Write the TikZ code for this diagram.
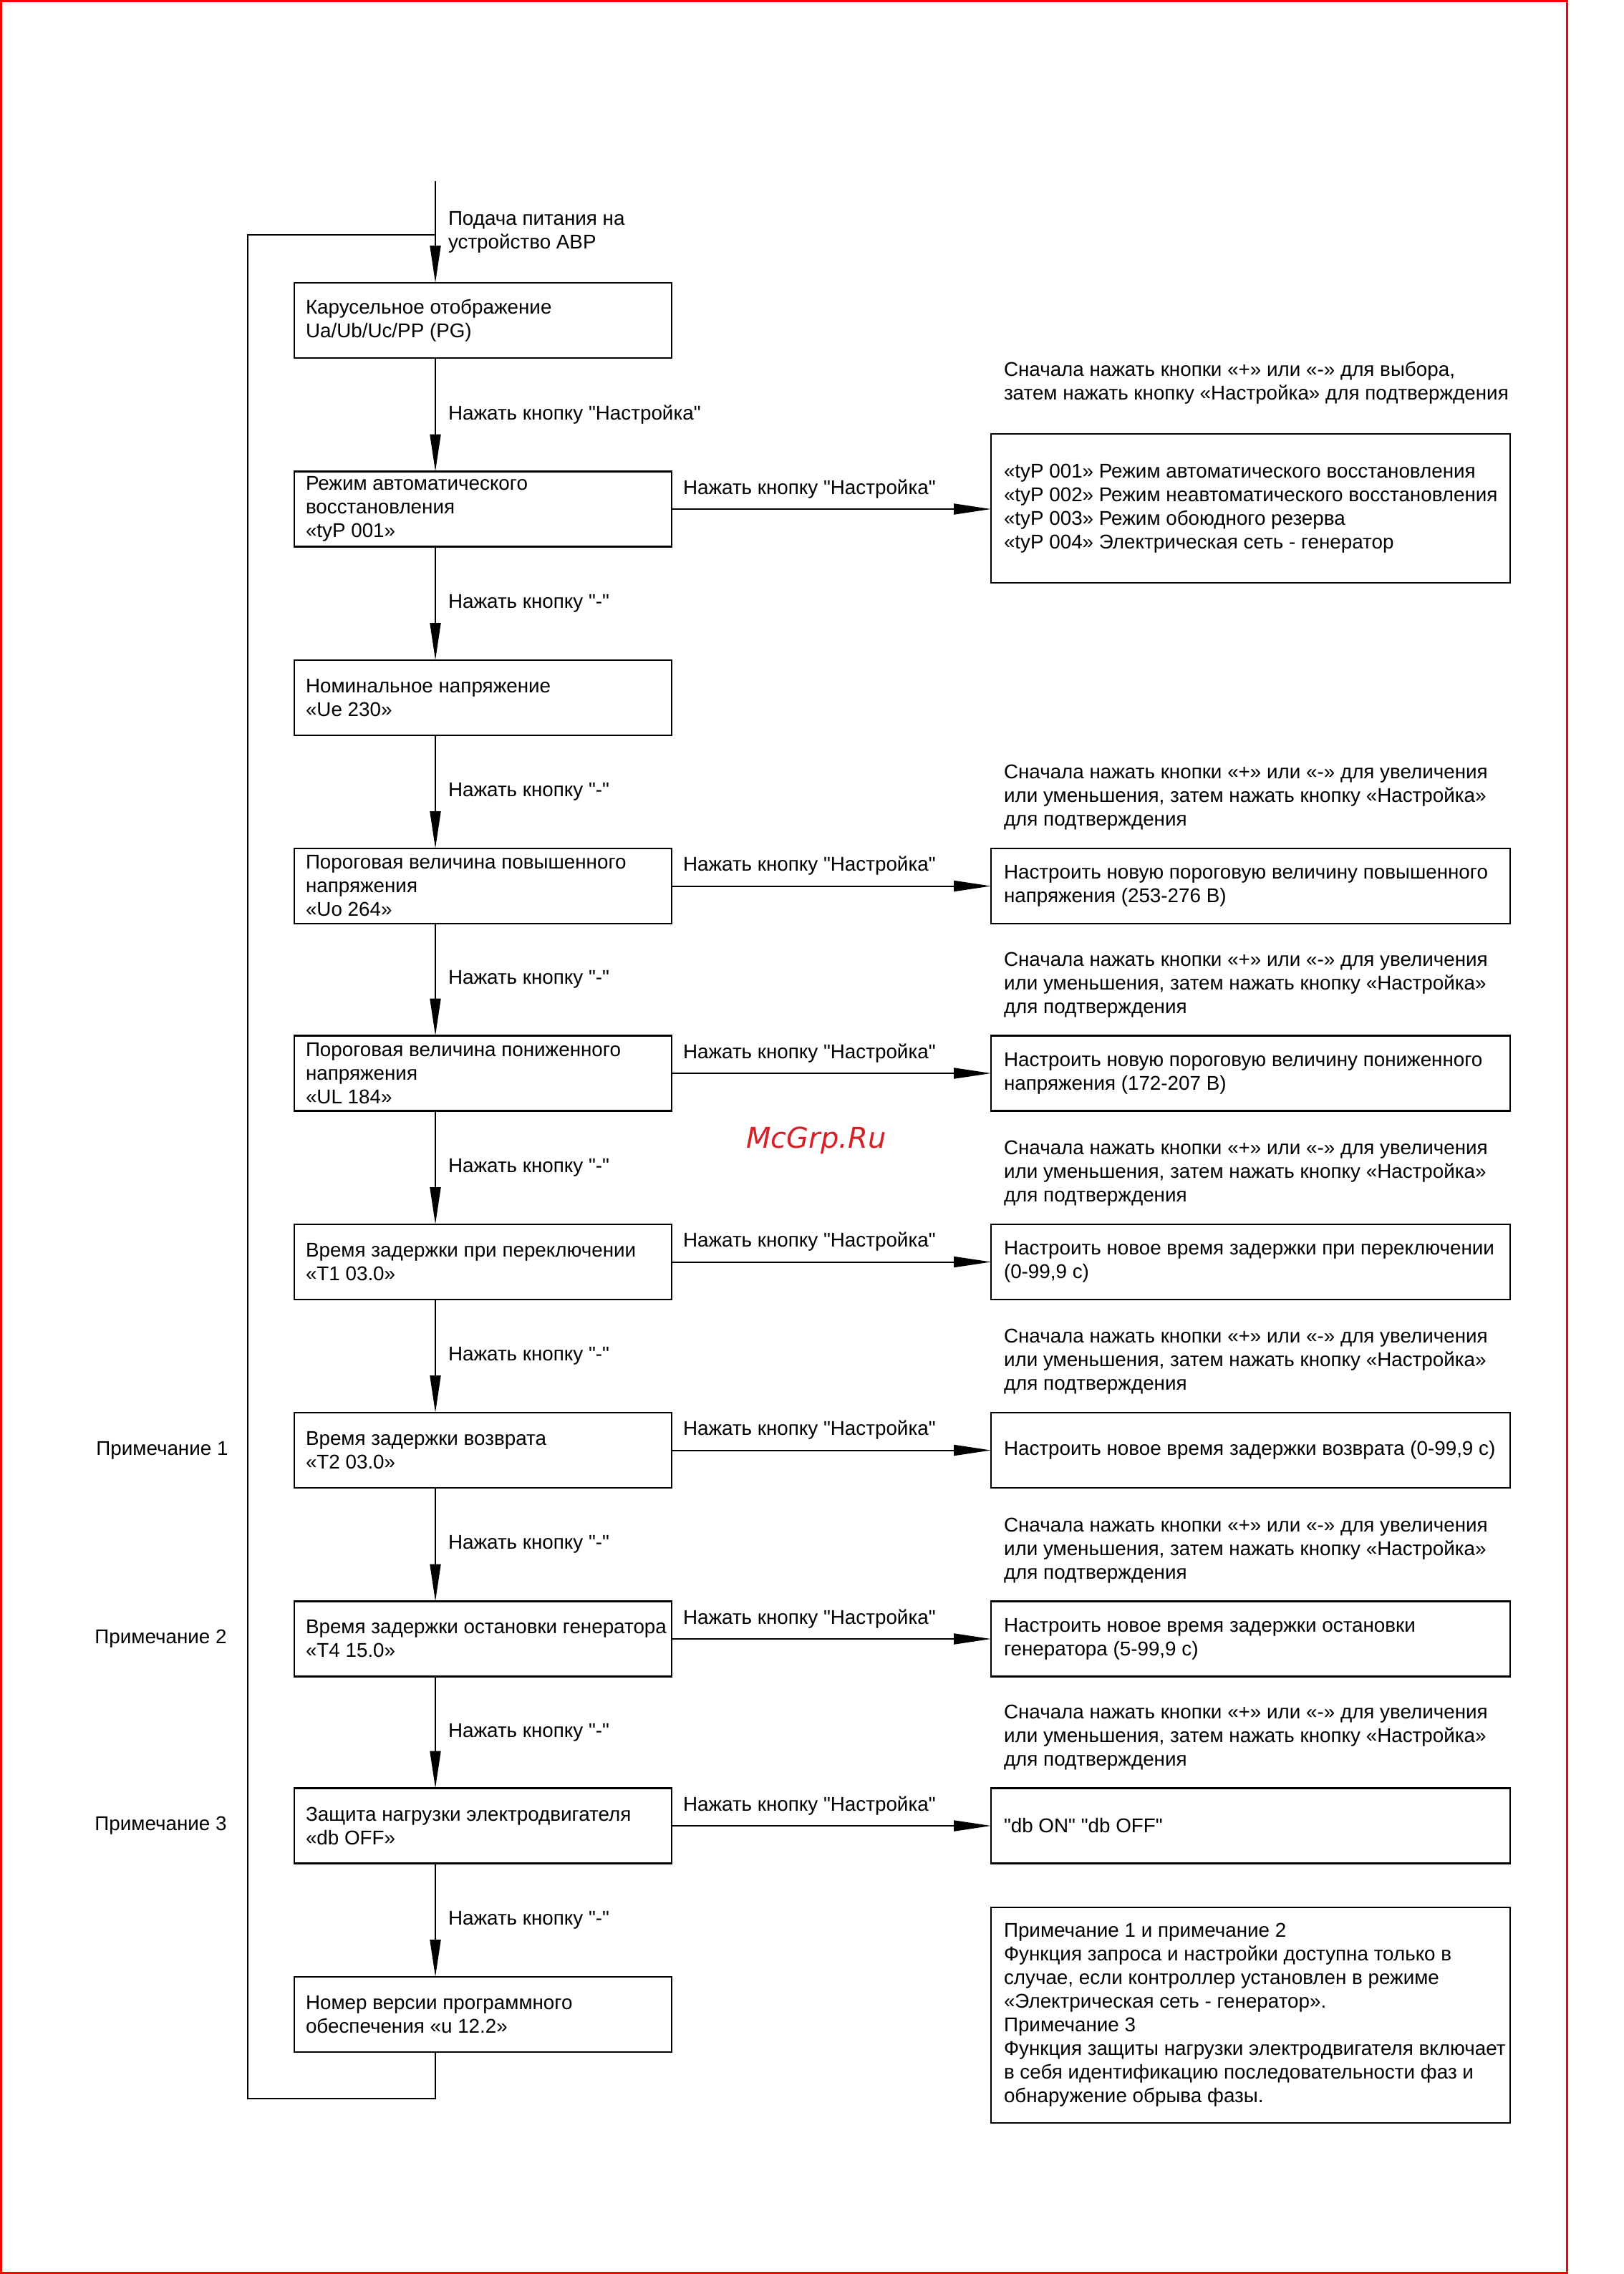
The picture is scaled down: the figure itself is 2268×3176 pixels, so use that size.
\documentclass[tikz,border=0pt]{standalone}
\usepackage{fontspec}
\setmainfont{Liberation Sans}[Ligatures=TeXOff]
\newfontfamily\wmfont{DejaVu Sans}
\usetikzlibrary{arrows.meta,calc}
\definecolor{wmred}{RGB}{214,32,39}
\begin{document}
\begin{tikzpicture}[x=0.5pt,y=-0.5pt,
  every node/.style={font=\fontsize{13.9}{16.5}\selectfont, inner sep=0pt, outer sep=0pt},
  lbox/.style={draw, line width=1.3pt, minimum width=263.5pt, minimum height=52.5pt},
  rbox/.style={draw, line width=1.3pt, minimum width=362.5pt, minimum height=52.5pt},
  lab/.style={align=left, anchor=west},
  arr/.style={line width=1pt, -{Triangle[length=26pt,width=7.5pt]}},
  ln/.style={line width=1pt}
]
\useasboundingbox (0,0) rectangle (2268,3176);
% page frame
\draw[red, line width=1.5pt] (1.5,1.5) rectangle (2188,3174.5);

% left column boxes
\node[lbox] (b1) at (674.5,447.5) {};
\node[lbox] (b2) at (674.5,711) {};
\node[lbox] (b3) at (674.5,974.5) {};
\node[lbox] (b4) at (674.5,1237.5) {};
\node[lbox] (b5) at (674.5,1499) {};
\node[lbox] (b6) at (674.5,1762.5) {};
\node[lbox] (b7) at (674.5,2025.5) {};
\node[lbox] (b8) at (674.5,2289) {};
\node[lbox] (b9) at (674.5,2550) {};
\node[lbox] (b10) at (674.5,2813.5) {};

\node[lab] (t1) at ($(b1.west)+(8pt,0)$) {Карусельное отображение\\Ua/Ub/Uc/PP (PG)};
\node[lab] (t2) at ($(b2.west)+(8pt,0)$) {Режим автоматического\\восстановления\\«tyP 001»};
\node[lab] (t3) at ($(b3.west)+(8pt,0)$) {Номинальное напряжение\\«Ue 230»};
\node[lab] (t4) at ($(b4.west)+(8pt,0)$) {Пороговая величина повышенного\\напряжения\\«Uo 264»};
\node[lab] (t5) at ($(b5.west)+(8pt,0)$) {Пороговая величина пониженного\\напряжения\\«UL 184»};
\node[lab] (t6) at ($(b6.west)+(8pt,0)$) {Время задержки при переключении\\«T1 03.0»};
\node[lab] (t7) at ($(b7.west)+(8pt,0)$) {Время задержки возврата\\«T2 03.0»};
\node[lab] (t8) at ($(b8.west)+(8pt,0)$) {Время задержки остановки генератора\\«T4 15.0»};
\node[lab] (t9) at ($(b9.west)+(8pt,0)$) {Защита нагрузки электродвигателя\\«db OFF»};
\node[lab] (t10) at ($(b10.west)+(8pt,0)$) {Номер версии программного\\обеспечения «u 12.2»};

% right column boxes
\node[rbox, minimum height=104pt] (r1) at (1746.5,710) {};
\node[rbox] (r2) at (1746.5,1237.5) {};
\node[rbox] (r3) at (1746.5,1499) {};
\node[rbox] (r4) at (1746.5,1762.5) {};
\node[rbox] (r5) at (1746.5,2025.5) {};
\node[rbox] (r6) at (1746.5,2289) {};
\node[rbox] (r7) at (1746.5,2550) {};
\node[rbox, minimum height=150.5pt] (nb) at (1746.5,2814.5) {};

\node[lab] (rt1) at ($(r1.west)+(9pt,0)$) {«tyP 001» Режим автоматического восстановления\\«tyP 002» Режим неавтоматического восстановления\\«tyP 003» Режим обоюдного резерва\\«tyP 004» Электрическая сеть - генератор};
\node[lab] (rt2) at ($(r2.west)+(9pt,0)$) {Настроить новую пороговую величину повышенного\\напряжения (253-276 В)};
\node[lab] (rt3) at ($(r3.west)+(9pt,0)$) {Настроить новую пороговую величину пониженного\\напряжения (172-207 В)};
\node[lab] (rt4) at ($(r4.west)+(9pt,0)$) {Настроить новое время задержки при переключении\\(0-99,9 с)};
\node[lab] (rt5) at ($(r5.west)+(9pt,0)$) {Настроить новое время задержки возврата (0-99,9 с)};
\node[lab] (rt6) at ($(r6.west)+(9pt,0)$) {Настроить новое время задержки остановки\\генератора (5-99,9 с)};
\node[lab] (rt7) at ($(r7.west)+(9pt,0)$) {"db ON" "db OFF"};
\node[lab] (nt) at ($(nb.west)+(9pt,0)$) {Примечание 1 и примечание 2\\Функция запроса и настройки доступна только в\\случае, если контроллер установлен в режиме\\«Электрическая сеть - генератор».\\Примечание 3\\Функция защиты нагрузки электродвигателя включает\\в себя идентификацию последовательности фаз и\\обнаружение обрыва фазы.};

% annotations above right boxes
\node[lab] (a1) at ($(r1.north west)+(9pt,35.5pt)$) {Сначала нажать кнопки «+» или «-» для выбора,\\затем нажать кнопку «Настройка» для подтверждения};
\foreach \r in {r2,r3,r4,r5,r6,r7}{
  \node[lab] (a\r) at ($(\r.north west)+(9pt,35.5pt)$) {Сначала нажать кнопки «+» или «-» для увеличения\\или уменьшения, затем нажать кнопку «Настройка»\\для подтверждения};
}

% notes on the left
\node[anchor=east] (n1) at ($(b7.center)+(-178pt,0)$) {Примечание 1};
\node[anchor=east] (n2) at ($(b8.center)+(-179pt,0)$) {Примечание 2};
\node[anchor=east] (n3) at ($(b9.center)+(-179pt,0)$) {Примечание 3};

% vertical flow
\coordinate (st) at (608,253);
\coordinate (lpb) at (346,2931);
\coordinate (lpt) at (346,328);
\coordinate (jn) at (608,328);
\draw[arr] (st) -- (b1.north -| st);
\node[lab] (l0) at (626,324) {Подача питания на\\устройство АВР};
\draw[arr] (b1.south -| st) -- node[lab, midway, xshift=9pt] (l1) {Нажать кнопку "Настройка"} (b2.north -| st);
\draw[arr] (b2.south -| st) -- node[lab, midway, xshift=9pt] (l2) {Нажать кнопку "-"} (b3.north -| st);
\draw[arr] (b3.south -| st) -- node[lab, midway, xshift=9pt] (l3) {Нажать кнопку "-"} (b4.north -| st);
\draw[arr] (b4.south -| st) -- node[lab, midway, xshift=9pt] (l4) {Нажать кнопку "-"} (b5.north -| st);
\draw[arr] (b5.south -| st) -- node[lab, midway, xshift=9pt] (l5) {Нажать кнопку "-"} (b6.north -| st);
\draw[arr] (b6.south -| st) -- node[lab, midway, xshift=9pt] (l6) {Нажать кнопку "-"} (b7.north -| st);
\draw[arr] (b7.south -| st) -- node[lab, midway, xshift=9pt] (l7) {Нажать кнопку "-"} (b8.north -| st);
\draw[arr] (b8.south -| st) -- node[lab, midway, xshift=9pt] (l8) {Нажать кнопку "-"} (b9.north -| st);
\draw[arr] (b9.south -| st) -- node[lab, midway, xshift=9pt] (l9) {Нажать кнопку "-"} (b10.north -| st);
\draw[ln] (b10.south -| st) |- (lpb) -- (lpt) -- (jn);

% horizontal arrows
\draw[arr] (b2.east) -- node[lab, pos=0, xshift=8pt, yshift=14pt] (h1) {Нажать кнопку "Настройка"} (b2.east -| r1.west);
\foreach \i/\r in {4/r2,5/r3,6/r4,7/r5,8/r6,9/r7}{
  \draw[arr] (b\i.east) -- node[lab, pos=0, xshift=8pt, yshift=14pt] (h\r) {Нажать кнопку "Настройка"} (\r.west);
}

% watermark
\node[anchor=base, font=\wmfont\itshape\fontsize{20}{24}\selectfont, text=wmred] (wm) at (1140,1603) {McGrp.Ru};
\end{tikzpicture}
\end{document}
